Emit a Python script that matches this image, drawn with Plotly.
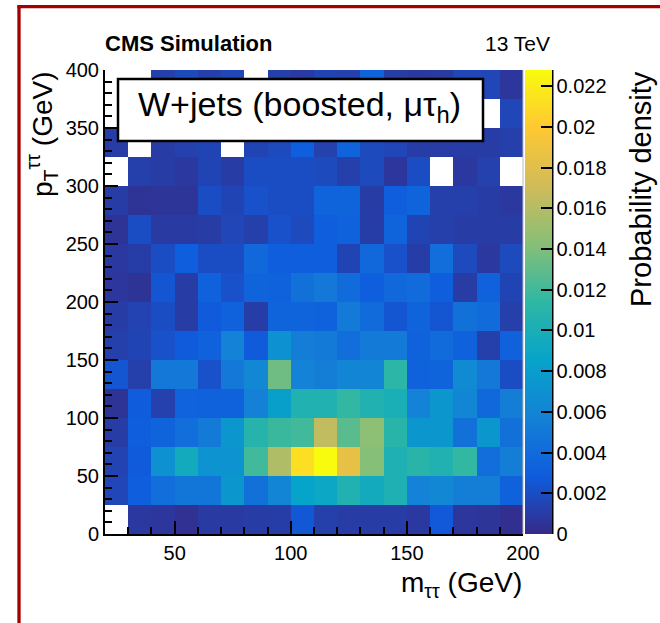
import plotly.graph_objects as go

# ---- data ----
x_centers = [25, 35, 45, 55, 65, 75, 85, 95, 105, 115, 125, 135, 145, 155, 165, 175, 185, 195]
y_centers = [12.5, 37.5, 62.5, 87.5, 112.5, 137.5, 162.5, 187.5, 212.5, 237.5,
             262.5, 287.5, 312.5, 337.5, 362.5, 387.5]

N = None
row_000_025 = [N, .0008, .0007, .0004, .0009, .0009, .0010, .0011, .0026, .0012, .0010, .0010, .0010, .0008, .0027, .0007, .0006, .0003]
row_025_050 = [.0016, .0030, .0042, .0048, .0048, .0075, .0045, .0060, .0085, .0090, .0105, .0095, .0103, .0058, .0062, .0055, .0055, .0032]
row_050_075 = [.0014, .0028, .0070, .0095, .0072, .0072, .0120, .0158, .0212, .0228, .0185, .0142, .0103, .0110, .0105, .0115, .0042, .0055]
row_075_100 = [.0010, .0030, .0035, .0042, .0052, .0075, .0108, .0118, .0120, .0165, .0128, .0145, .0110, .0075, .0075, .0045, .0075, .0045]
row_100_125 = [.0005, .0029, .0013, .0034, .0033, .0033, .0057, .0082, .0105, .0105, .0115, .0105, .0100, .0058, .0075, .0060, .0038, .0055]
row_125_150 = [.0025, .0012, .0050, .0050, .0022, .0050, .0062, .0135, .0058, .0055, .0060, .0060, .0112, .0033, .0035, .0065, .0050, .0020]
row_150_175 = [.0012, .0015, .0022, .0028, .0032, .0058, .0028, .0070, .0055, .0052, .0042, .0052, .0052, .0032, .0040, .0032, .0012, .0032]
row_175_200 = [.0010, .0014, .0020, .0010, .0028, .0032, .0011, .0035, .0035, .0032, .0052, .0040, .0025, .0035, .0025, .0045, .0040, .0012]
row_200_225 = [.0007, .0005, .0025, .0010, .0032, .0022, .0035, .0033, .0045, .0050, .0040, .0030, .0038, .0040, .0030, .0010, .0032, .0015]
row_225_250 = [.0008, .0011, .0020, .0030, .0020, .0020, .0038, .0030, .0030, .0030, .0015, .0038, .0022, .0011, .0042, .0018, .0008, .0018]
row_250_275 = [.0005, .0020, .0009, .0009, .0010, .0016, .0012, .0022, .0018, .0030, .0033, .0011, .0035, .0015, .0012, .0010, .0010, .0010]
row_275_300 = [.0010, .0005, .0006, .0006, .0020, .0015, .0022, .0020, .0020, .0035, .0035, .0010, .0030, .0035, .0012, .0012, .0010, .0008]
row_300_325 = [N, .0012, .0010, .0008, .0015, .0010, .0020, .0020, .0020, .0018, .0012, .0018, .0007, .0020, N, .0008, .0013, N]
row_325_350 = [.0010, N, .0010, .0013, .0015, N, .0015, .0018, .0030, .0013, .0035, .0018, .0016, .0011, .0010, .0010, .0010, .0012]
row_350_375 = [N, .0012, .0013, .0013, .0012, .0015, .0012, .0015, .0015, .0015, .0020, .0013, .0013, .0012, .0012, .0013, N, .0016]
row_375_400 = [N, N, .0012, .0018, .0012, .0016, N, .0012, .0009, .0015, .0013, .0035, .0010, .0008, .0009, .0016, .0016, .0007]

z_rows = [row_000_025, row_025_050, row_050_075, row_075_100, row_100_125, row_125_150,
          row_150_175, row_175_200, row_200_225, row_225_250, row_250_275, row_275_300,
          row_300_325, row_325_350, row_350_375, row_375_400]

x_tick_vals = [50, 100, 150, 200]
x_tick_labels = ["50", "100", "150", "200"]
y_tick_vals = [0, 50, 100, 150, 200, 250, 300, 350, 400]
y_tick_labels = ["0", "50", "100", "150", "200", "250", "300", "350", "400"]
cb_tick_vals = [0, 0.002, 0.004, 0.006, 0.008, 0.01, 0.012, 0.014, 0.016, 0.018, 0.02, 0.022]
cb_tick_labels = ["0", "0.002", "0.004", "0.006", "0.008", "0.01", "0.012", "0.014",
                  "0.016", "0.018", "0.02", "0.022"]
z_max = 0.0228

# ROOT kBird palette
kbird = [
    [0.000, "rgb(53,42,135)"],
    [0.125, "rgb(15,92,221)"],
    [0.250, "rgb(20,129,214)"],
    [0.375, "rgb(6,164,202)"],
    [0.500, "rgb(46,183,164)"],
    [0.625, "rgb(135,191,119)"],
    [0.750, "rgb(209,187,89)"],
    [0.875, "rgb(254,200,50)"],
    [1.000, "rgb(249,251,14)"],
]

FONT = "Liberation Sans, Arial, Helvetica, sans-serif"

W, H = 660, 623
L, R, T, B = 105, 137, 70, 89
PW, PH = W - L - R, H - T - B


def px(xp):
    return (xp - L) / PW


def py(yp):
    return (H - B - yp) / PH


fig = go.Figure()
fig.add_trace(go.Heatmap(
    x=x_centers, y=y_centers, z=z_rows,
    zmin=0, zmax=z_max, colorscale=kbird,
    hoverongaps=False,
    colorbar=dict(
        x=px(525), xanchor="left", xpad=0, ypad=0,
        y=0.5, yanchor="middle", len=1, lenmode="fraction",
        thickness=27, outlinewidth=0,
        tickvals=cb_tick_vals, ticktext=cb_tick_labels,
        ticks="inside", ticklen=11, tickwidth=2, tickcolor="black",
        tickfont=dict(family=FONT, size=20, color="black"),
    ),
))

fig.update_xaxes(
    range=[20, 200], tickvals=x_tick_vals, ticktext=x_tick_labels,
    ticks="inside", ticklen=13, tickwidth=2, tickcolor="black",
    minor=dict(dtick=10, tick0=0, ticks="inside", ticklen=7, tickwidth=2, tickcolor="black"),
    showline=True, linewidth=2, linecolor="black", mirror=False,
    showgrid=False, zeroline=False,
    tickfont=dict(family=FONT, size=20, color="black"),
)
fig.update_yaxes(
    range=[0, 400], tickvals=y_tick_vals, ticktext=y_tick_labels,
    ticks="inside", ticklen=13, tickwidth=2, tickcolor="black",
    minor=dict(dtick=10, tick0=0, ticks="inside", ticklen=7, tickwidth=2, tickcolor="black"),
    showline=True, linewidth=2, linecolor="black", mirror=False,
    showgrid=False, zeroline=False,
    tickfont=dict(family=FONT, size=20, color="black"),
)

shapes = [
    # thin frame edge at right of the plot
    dict(type="line", xref="paper", yref="paper", x0=1, x1=1, y0=0, y1=1,
         line=dict(color="#bbbbbb", width=1)),
    # colorbar axis line
    dict(type="line", xref="paper", yref="paper", x0=px(552.5), x1=px(552.5), y0=0, y1=1,
         line=dict(color="black", width=2)),
    # label box
    dict(type="rect", xref="paper", yref="paper", x0=px(118), x1=px(483), y0=py(141), y1=py(79),
         fillcolor="white", line=dict(color="black", width=2.5), layer="above"),
    # dark red slide frame
    dict(type="line", xref="paper", yref="paper", x0=px(19), x1=px(19), y0=py(623), y1=py(5),
         line=dict(color="#a30000", width=3.3)),
    dict(type="line", xref="paper", yref="paper", x0=px(17.5), x1=px(661), y0=py(6.7), y1=py(6.7),
         line=dict(color="#a30000", width=3.3)),
]

annotations = [
    dict(text="W+jets (boosted, μτ<sub>h</sub>)", xref="paper", yref="paper",
         x=px(299), y=py(106), xanchor="center", yanchor="middle", showarrow=False,
         font=dict(family=FONT, size=34, color="black")),
    dict(text="<b>CMS Simulation</b>", xref="paper", yref="paper",
         x=px(103), y=py(44), xanchor="left", yanchor="middle", showarrow=False,
         font=dict(family=FONT, size=22, color="black")),
    dict(text="13 TeV", xref="paper", yref="paper",
         x=px(552), y=py(43), xanchor="right", yanchor="middle", showarrow=False,
         font=dict(family=FONT, size=21, color="black")),
    dict(text="m<sub>ττ</sub> (GeV)", xref="paper", yref="paper",
         x=px(524), y=py(584), xanchor="right", yanchor="middle", showarrow=False,
         font=dict(family=FONT, size=28, color="black")),
    dict(text="p<sub>T</sub><sup>ττ</sup> (GeV)", xref="paper", yref="paper", textangle=-90,
         x=px(42), y=py(69), xanchor="center", yanchor="top", showarrow=False,
         font=dict(family=FONT, size=28, color="black")),
    dict(text="Probability density", xref="paper", yref="paper", textangle=-90,
         x=px(641), y=py(69), xanchor="center", yanchor="top", showarrow=False,
         font=dict(family=FONT, size=29, color="black")),
]

fig.update_layout(
    width=W, height=H,
    margin=dict(l=L, r=R, t=T, b=B, pad=0),
    paper_bgcolor="white", plot_bgcolor="white",
    shapes=shapes, annotations=annotations,
    font=dict(family=FONT, color="black"),
    showlegend=False,
)

fig.write_html("out.html")
